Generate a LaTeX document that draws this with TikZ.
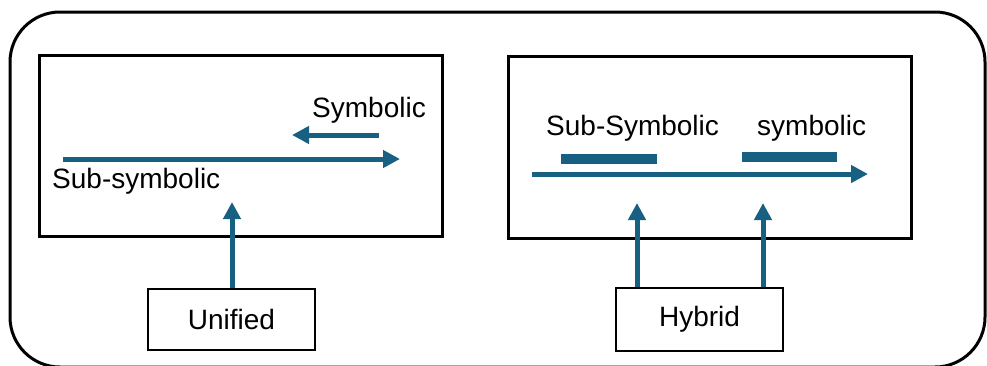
\documentclass[tikz,border=0pt]{standalone}
\usepackage{fontspec}
\setmainfont{Liberation Sans}
\usetikzlibrary{arrows.meta}
\definecolor{teal}{RGB}{24,96,130}
\tikzset{
  frame/.style={draw=black, line width=2.5pt},
  lbl/.style={inner sep=0pt, font=\fontsize{28}{33}\selectfont},
  flow/.style={draw=teal, line width=5pt, -{Triangle[length=17pt,width=17pt]}},
  bar/.style={fill=teal, draw=none},
}
\begin{document}
\begin{tikzpicture}[x=1pt,y=-1pt]
\useasboundingbox (0,0) rectangle (987,365);
% outer rounded frame
\draw[line width=3pt, rounded corners=50pt] (10,12) rectangle (985,367);
% left panel
\node[frame, minimum width=403pt, minimum height=181pt, anchor=north west] (lbox) at (38,54) {};
\node[lbl, anchor=west] (sym) at (312,110) {Symbolic};
\node[lbl, anchor=west] (subsym) at (52,181) {Sub-symbolic};
\coordinate (sa) at (379,135);
\coordinate (sb) at (292,135);
\draw[flow] (sa) -- (sb);
\coordinate (la) at (63,159);
\coordinate (lb) at (400,159);
\draw[flow] (la) -- (lb);
\node[frame, minimum width=167pt, minimum height=61pt, font=\fontsize{28}{33}\selectfont] (unified) at (231.5,319.5) {Unified};
\coordinate (ut) at (232,202);
\draw[flow] (unified.north -| ut) -- (ut);
% right panel
\node[frame, minimum width=403pt, minimum height=182pt, anchor=north west] (rbox) at (507,55) {};
\node[lbl, anchor=west] (subsym2) at (546,128) {Sub-Symbolic};
\node[lbl, anchor=west] (sym2) at (757,128) {symbolic};
\node[bar, minimum width=96pt, minimum height=10pt, inner sep=0pt] (bar1) at (609,159) {};
\node[bar, minimum width=95pt, minimum height=10pt, inner sep=0pt] (bar2) at (789.5,157) {};
\coordinate (ra) at (532,174);
\coordinate (rb) at (868,174);
\draw[flow] (ra) -- (rb);
\node[frame, minimum width=167pt, minimum height=63pt, font=\fontsize{28}{33}\selectfont] (hybrid) at (699.5,319.5) {Hybrid};
\coordinate (h1) at (637,203);
\coordinate (h2) at (763,203);
\draw[flow] (hybrid.north -| h1) -- (h1);
\draw[flow] (hybrid.north -| h2) -- (h2);
\end{tikzpicture}
\end{document}
